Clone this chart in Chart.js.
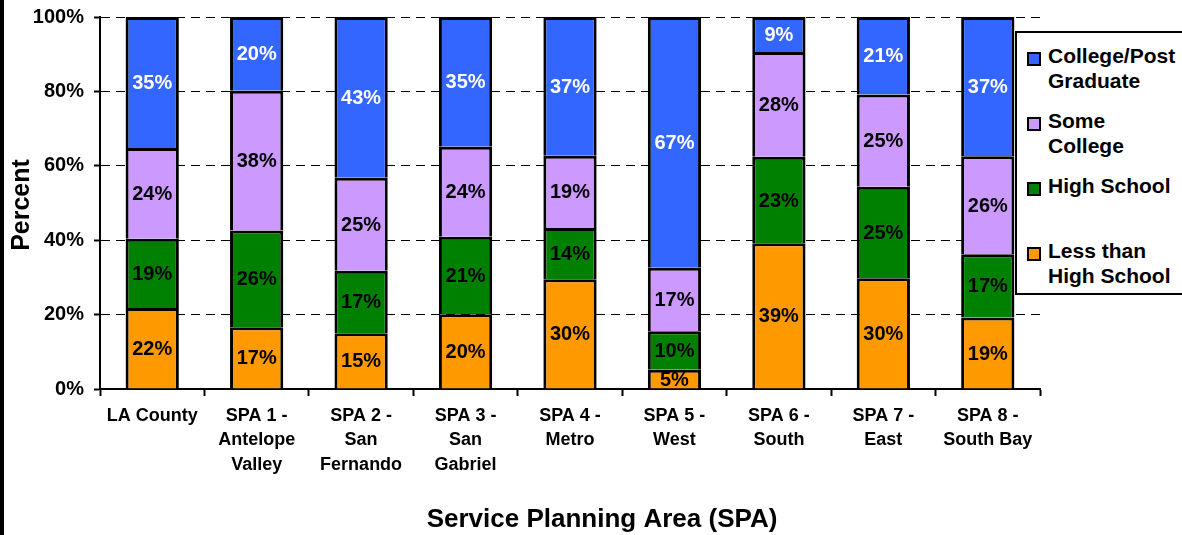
<!DOCTYPE html>
<html>
<head>
<meta charset="utf-8">
<script src="https://cdn.jsdelivr.net/npm/chart.js@4/dist/chart.umd.min.js"></script>
<style>
  html, body { margin: 0; padding: 0; background: #fff; }
  #wrap { position: relative; width: 1182px; height: 535px; overflow: hidden; }
  #edge { position: absolute; left: 0; top: 0; width: 4px; height: 535px; background: #000; }
  #legend {
    position: absolute; left: 1015px; top: 31px; width: 200px; height: 260px;
    border: 2px solid #000; background: #fff; box-sizing: content-box;
    font: bold 21px "Liberation Sans", Arial, sans-serif; color: #000;
  }
  .item { position: absolute; left: 10px; height: 65px; }
  .swatch { position: absolute; left: 0; top: 12px; width: 10px; height: 10px; border: 2px solid #000; }
  .txt { position: absolute; left: 21px; top: 3px; width: 135px; line-height: 25px; }
</style>
</head>
<body>
<div id="wrap">
  <canvas id="grafico" width="1182" height="535"></canvas>
  <div id="edge"></div>
  <div id="legend"></div>
</div>
<script>
const categories = [
  ['LA County'],
  ['SPA 1 -', 'Antelope', 'Valley'],
  ['SPA 2 -', 'San', 'Fernando'],
  ['SPA 3 -', 'San', 'Gabriel'],
  ['SPA 4 -', 'Metro'],
  ['SPA 5 -', 'West'],
  ['SPA 6 -', 'South'],
  ['SPA 7 -', 'East'],
  ['SPA 8 -', 'South Bay']
];
const seriesNames = ['Less than High School', 'High School', 'Some College', 'College/Post Graduate'];
const lessThanHS = [21.8, 16.6, 15.0, 20.1, 29.5, 5.2, 39.2, 29.8, 19.2];
const highSchool = [18.6, 26.0, 16.8, 20.8, 13.8, 10.3, 23.2, 24.6, 17.0];
const someCollege = [24.4, 37.6, 25.0, 24.2, 19.4, 17.1, 28.2, 24.8, 26.4];
const collegePost = [35.2, 19.8, 43.2, 34.9, 37.3, 67.4, 9.4, 20.8, 37.4];
const yTicks = [0, 20, 40, 60, 80, 100];

const colors = ['#FF9900', '#008000', '#CC99FF', '#3366FF'];
const labelColors = ['#000', '#000', '#000', '#fff'];
const FONT = '"Liberation Sans", Arial, sans-serif';

Chart.defaults.font.family = FONT;
Chart.defaults.color = '#000';

const seriesData = [lessThanHS, highSchool, someCollege, collegePost];

// legend, top to bottom is the reverse of the stack
const legend = document.getElementById('legend');
for (let k = 0; k < 4; k++) {
  const i = 3 - k;
  const item = document.createElement('div');
  item.className = 'item';
  item.style.top = (7 + k * 65) + 'px';
  item.innerHTML = '<div class="swatch" style="background:' + colors[i] + '"></div>' +
    '<div class="txt">' + seriesNames[i] + '</div>';
  legend.appendChild(item);
}

const segmentLabels = {
  id: 'segmentLabels',
  afterDatasetsDraw(chart) {
    const ctx = chart.ctx;
    ctx.save();
    ctx.font = 'bold 20px ' + FONT;
    ctx.textAlign = 'center';
    ctx.textBaseline = 'middle';
    chart.data.datasets.forEach((ds, i) => {
      const meta = chart.getDatasetMeta(i);
      ctx.fillStyle = labelColors[i];
      meta.data.forEach((bar, j) => {
        const v = ds.data[j];
        ctx.fillText(Math.round(v) + '%', bar.x, (bar.y + bar.base) / 2 + 1);
      });
    });
    ctx.restore();
  }
};

const axisTitles = {
  id: 'axisTitles',
  afterDraw(chart) {
    const ctx = chart.ctx;
    const area = chart.chartArea;
    ctx.save();
    ctx.fillStyle = '#000';
    ctx.font = 'bold 25px ' + FONT;
    ctx.textAlign = 'center';
    ctx.textBaseline = 'middle';
    ctx.translate(22, (area.top + area.bottom) / 2 + 2);
    ctx.rotate(-Math.PI / 2);
    ctx.fillText('Percent', 0, 0);
    ctx.restore();

    ctx.save();
    ctx.fillStyle = '#000';
    ctx.font = 'bold 26px ' + FONT;
    ctx.textAlign = 'center';
    ctx.textBaseline = 'alphabetic';
    ctx.fillText('Service Planning Area (SPA)', 602, 527);
    ctx.restore();
  }
};

new Chart(document.getElementById('grafico').getContext('2d'), {
  type: 'bar',
  data: {
    labels: categories,
    datasets: seriesData.map((d, i) => ({
      label: seriesNames[i],
      data: d,
      backgroundColor: colors[i],
      borderColor: '#000',
      borderWidth: 3,
      barPercentage: 0.51,
      categoryPercentage: 1.0
    }))
  },
  options: {
    responsive: false,
    animation: false,
    devicePixelRatio: 1,
    layout: { padding: { left: 0, top: 17, right: 142, bottom: 0 } },
    plugins: {
      legend: { display: false },
      tooltip: { enabled: false }
    },
    scales: {
      x: {
        stacked: true,
        z: 1,
        afterFit(scale) { scale.height = 146; },
        grid: {
          offset: true,
          drawOnChartArea: false,
          drawTicks: true,
          tickLength: 7,
          tickColor: '#000',
          tickWidth: 2
        },
        border: { display: true, color: '#000', width: 2 },
        ticks: {
          font: { size: 18, weight: 'bold', lineHeight: 1.35 },
          color: '#000',
          padding: 8,
          maxRotation: 0,
          autoSkip: false
        }
      },
      y: {
        stacked: true,
        min: 0,
        max: 100,
        afterFit(scale) {
          scale.width = 100;
          scale.paddingTop = 0;
          scale.paddingBottom = 0;
        },
        afterBuildTicks(scale) { scale.ticks = yTicks.map(v => ({ value: v })); },
        grid: {
          color: '#000',
          lineWidth: 1,
          drawTicks: true,
          tickLength: 6,
          tickColor: '#000',
          tickWidth: 2,
          tickBorderDash: []
        },
        border: { display: true, color: '#000', width: 2, dash: [9, 6] },
        ticks: {
          font: { size: 20, weight: 'bold' },
          color: '#000',
          padding: 10,
          callback: v => v + '%'
        }
      }
    }
  },
  plugins: [segmentLabels, axisTitles]
});
</script>
</body>
</html>
